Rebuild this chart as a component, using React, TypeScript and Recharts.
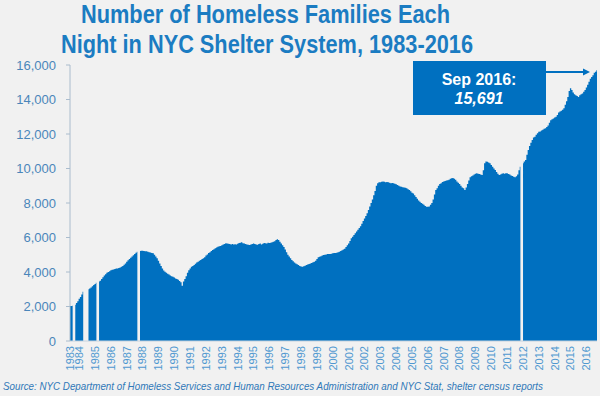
import React from 'react';
import { AreaChart, Area, XAxis, YAxis } from 'recharts';

// Monthly average number of homeless families (null = no data reported)
const v1983 = [2030, 2030, 2040, null, 2100, 2200, 2300]; // Jun-Dec
const v1984 = [2450, 2550, 2700, 2850, null, null, null, 3000, 3050, 3100, 3180, 3250];
const v1985 = [3300, 3380, null, 3450, 3500, 3600, 3700, 3800, 3870, 3950, 4000, 4050];
const v1986 = [4100, 4130, 4150, 4180, 4200, 4210, 4230, 4260, 4300, 4350, 4420, 4500];
const v1987 = [4600, 4680, 4750, 4830, 4900, 4970, 5050, 5120, 5180, null, 5220, 5230];
const v1988 = [5230, 5220, 5210, 5200, 5180, 5150, 5130, 5100, 5080, 5000, 4900, 4800];
const v1989 = [4650, 4500, 4350, 4200, 4080, 4020, 3950, 3900, 3850, 3800, 3760, 3730];
const v1990 = [3680, 3630, 3600, 3550, 3480, 3400, 3200, 3450, 3600, 3750, 3950, 4100];
const v1991 = [4200, 4300, 4350, 4400, 4480, 4550, 4600, 4650, 4700, 4750, 4800, 4850];
const v1992 = [4950, 5020, 5100, 5150, 5220, 5280, 5320, 5380, 5420, 5460, 5490, 5510];
const v1993 = [5550, 5600, 5630, 5660, 5650, 5640, 5620, 5600, 5620, 5590, 5610, 5600];
const v1994 = [5640, 5680, 5700, 5720, 5660, 5650, 5630, 5600, 5580, 5560, 5600, 5630];
const v1995 = [5650, 5620, 5600, 5580, 5620, 5650, 5600, 5640, 5680, 5660, 5650, 5700];
const v1996 = [5680, 5700, 5720, 5750, 5780, 5850, 5900, 5850, 5750, 5650, 5550, 5450];
const v1997 = [5300, 5150, 5000, 4900, 4800, 4700, 4620, 4550, 4500, 4450, 4400, 4350];
const v1998 = [4320, 4310, 4330, 4360, 4400, 4430, 4460, 4500, 4520, 4560, 4600, 4650];
const v1999 = [4750, 4850, 4890, 4920, 4950, 4980, 5000, 5020, 5040, 5050, 5050, 5060];
const v2000 = [5080, 5100, 5100, 5120, 5150, 5180, 5220, 5260, 5300, 5350, 5450, 5550];
const v2001 = [5650, 5800, 5950, 6050, 6150, 6250, 6350, 6450, 6550, 6650, 6800, 6950];
const v2002 = [7100, 7250, 7400, 7600, 7800, 8000, 8200, 8450, 8700, 9000, 9150, 9200];
const v2003 = [9200, 9230, 9250, 9230, 9200, 9220, 9200, 9180, 9150, 9160, 9140, 9120];
const v2004 = [9080, 9050, 9000, 8950, 8940, 8920, 8900, 8880, 8850, 8800, 8750, 8680];
const v2005 = [8600, 8550, 8450, 8350, 8250, 8150, 8070, 8000, 7950, 7900, 7830, 7780];
const v2006 = [7780, 7800, 7900, 8000, 8200, 8500, 8750, 8850, 9000, 9100, 9150, 9220];
const v2007 = [9250, 9280, 9300, 9320, 9350, 9400, 9430, 9450, 9400, 9350, 9250, 9180];
const v2008 = [9100, 9000, 8900, 8850, 8750, 8900, 9100, 9300, 9500, 9550, 9600, 9650];
const v2009 = [9700, 9720, 9700, 9680, 9650, 9620, 9900, 10300, 10400, 10390, 10350, 10300];
const v2010 = [10200, 10100, 10000, 9910, 9800, 9700, 9620, 9650, 9700, 9720, 9700, 9720];
const v2011 = [9720, 9680, 9650, 9600, 9560, 9520, 9500, 9550, 9650, 9900, 10100, null];
const v2012 = [10300, 10400, 10500, 10800, 11070, 11300, 11500, 11650, 11800, 11840, 11950, 12050];
const v2013 = [12130, 12150, 12200, 12250, 12300, 12330, 12400, 12500, 12650, 12800, 12850, 12900];
const v2014 = [12950, 13000, 13100, 13250, 13300, 13350, 13400, 13500, 13700, 13900, 14150, 14500];
const v2015 = [14650, 14550, 14400, 14300, 14250, 14200, 14150, 14250, 14300, 14350, 14450, 14550];
const v2016 = [14700, 14850, 15030, 15200, 15300, 15400, 15550, 15610, 15691]; // Jan-Sep

const yearSeries: [number, (number | null)[]][] = [
  [1983, v1983], [1984, v1984], [1985, v1985], [1986, v1986], [1987, v1987],
  [1988, v1988], [1989, v1989], [1990, v1990], [1991, v1991], [1992, v1992],
  [1993, v1993], [1994, v1994], [1995, v1995], [1996, v1996], [1997, v1997],
  [1998, v1998], [1999, v1999], [2000, v2000], [2001, v2001], [2002, v2002],
  [2003, v2003], [2004, v2004], [2005, v2005], [2006, v2006], [2007, v2007],
  [2008, v2008], [2009, v2009], [2010, v2010], [2011, v2011], [2012, v2012],
  [2013, v2013], [2014, v2014], [2015, v2015], [2016, v2016],
];

const yTicks = [0, 2000, 4000, 6000, 8000, 10000, 12000, 14000, 16000];

const titleLine1 = 'Number of Homeless Families Each';
const titleLine2 = 'Night in NYC Shelter System, 1983-2016';
const calloutLabel = 'Sep 2016:';
const calloutValue = 15691;
const sourceText =
  'Source:  NYC Department of Homeless Services and Human Resources Administration and NYC Stat,  shelter census reports';

type Row = { key: string; families: number | null };
const data: Row[] = [];
yearSeries.forEach(([year, vals]) => {
  const start = year === 1983 ? 13 - vals.length : 1;
  vals.forEach((v, k) => {
    data.push({ key: `${year}-${String(start + k).padStart(2, '0')}`, families: v });
  });
});
const xTicks = yearSeries.map(([year]) => data.find((d) => d.key.startsWith(String(year)))!.key);

const FONT = '"Liberation Sans", Arial, sans-serif';
const BLUE = '#0070c0';

const YearTick = (props: any) => {
  const { x, y, payload } = props;
  return (
    <text
      x={x}
      y={y}
      transform={`rotate(-90 ${x} ${y})`}
      textAnchor="end"
      dy="0.35em"
      fontSize={11}
      fill="#4f98d0"
      fontFamily={FONT}
    >
      {String(payload.value).slice(0, 4)}
    </text>
  );
};

export default function App() {
  return (
    <div
      style={{
        position: 'absolute',
        left: 0,
        top: 0,
        width: 600,
        height: 396,
        background: '#f1f1f1',
        overflow: 'hidden',
        fontFamily: FONT,
      }}
    >
      <AreaChart
        width={600}
        height={396}
        data={data}
        margin={{ top: 65, right: 3, left: 0, bottom: 0 }}
      >
        <XAxis
          dataKey="key"
          type="category"
          ticks={xTicks}
          interval={0}
          tick={<YearTick />}
          tickLine={false}
          tickSize={0}
          tickMargin={5}
          axisLine={{ stroke: '#c5d2de' }}
          height={55}
        />
        <YAxis
          type="number"
          domain={[0, 16000]}
          ticks={yTicks}
          interval={0}
          width={70}
          tickSize={4}
          tickMargin={10}
          tickFormatter={(v: number) => v.toLocaleString('en-US')}
          tick={{ fontSize: 13, fill: '#4a86ba', fontFamily: FONT }}
          axisLine={{ stroke: '#aabccd' }}
          tickLine={{ stroke: '#aabccd' }}
        />
        <Area
          dataKey="families"
          type="step"
          stroke="none"
          fill={BLUE}
          fillOpacity={1}
          connectNulls={false}
          isAnimationActive={false}
          dot={false}
          activeDot={false}
        />
      </AreaChart>
      <svg
        width={600}
        height={396}
        style={{ position: 'absolute', left: 0, top: 0, pointerEvents: 'none' }}
      >
        <text
          x={81}
          y={23}
          fontSize={25}
          fontWeight="bold"
          fill="#1b7cc2"
          fontFamily={FONT}
          textLength={369}
          lengthAdjust="spacingAndGlyphs"
        >
          {titleLine1}
        </text>
        <text
          x={61}
          y={53}
          fontSize={25}
          fontWeight="bold"
          fill="#1b7cc2"
          fontFamily={FONT}
          textLength={412}
          lengthAdjust="spacingAndGlyphs"
        >
          {titleLine2}
        </text>
        <rect x={413} y={61} width={133} height={54} fill={BLUE} />
        <text x={479} y={85} textAnchor="middle" fontSize={16} fontWeight="bold" fill="#ffffff" fontFamily={FONT}>
          {calloutLabel}
        </text>
        <text
          x={479}
          y={104}
          textAnchor="middle"
          fontSize={16}
          fontWeight="bold"
          fontStyle="italic"
          fill="#ffffff"
          fontFamily={FONT}
        >
          {calloutValue.toLocaleString('en-US')}
        </text>
        <line x1={546} y1={72} x2={584} y2={72} stroke={BLUE} strokeWidth={2} />
        <polygon points="583,68.5 590,72 583,75.5" fill={BLUE} />
        <text
          x={3}
          y={390}
          fontSize={10.5}
          fontStyle="italic"
          fill="#2f78b8"
          fontFamily={FONT}
          textLength={540}
          lengthAdjust="spacingAndGlyphs"
        >
          {sourceText}
        </text>
      </svg>
    </div>
  );
}
